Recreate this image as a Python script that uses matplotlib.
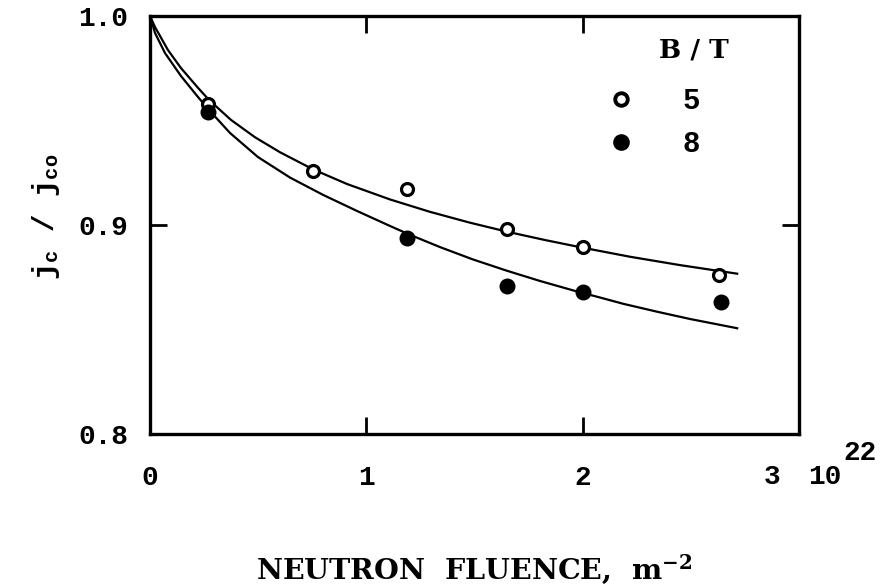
import matplotlib
matplotlib.use('Agg')
import matplotlib.pyplot as plt
from matplotlib.lines import Line2D

# measured points (fluence in 1e22 m^-2, jc/jco)
x_5T = [0.27, 0.755, 1.19, 1.65, 2.0, 2.63]
y_5T = [0.958, 0.926, 0.917, 0.898, 0.8895, 0.876]
x_8T = [0.27, 1.19, 1.65, 2.0, 2.64]
y_8T = [0.954, 0.894, 0.871, 0.868, 0.863]

# fitted curves
fit_x_5T = [0.0, 0.023, 0.083, 0.143, 0.222, 0.273, 0.374, 0.485, 0.601, 0.754, 0.911, 1.110,
            1.294, 1.479, 1.650, 1.826, 1.997, 2.219, 2.450, 2.714]
fit_y_5T = [1.0, 0.9947, 0.9837, 0.9751, 0.9656, 0.9598, 0.9503, 0.9420, 0.9348, 0.9266, 0.9196, 0.9122,
            0.9063, 0.9011, 0.8968, 0.8928, 0.8892, 0.8848, 0.8808, 0.8767]
fit_x_8T = [0.0, 0.023, 0.069, 0.143, 0.222, 0.273, 0.370, 0.499, 0.647, 0.800, 0.957, 1.110,
            1.197, 1.341, 1.493, 1.650, 1.803, 1.956, 2.080, 2.187, 2.344, 2.497, 2.714]
fit_y_8T = [1.0, 0.9919, 0.9823, 0.9713, 0.9612, 0.9550, 0.9440, 0.9325, 0.9227, 0.9144, 0.9067, 0.8995,
            0.8955, 0.8894, 0.8835, 0.8781, 0.8732, 0.8687, 0.8653, 0.8623, 0.8585, 0.8550, 0.8506]

x_ticks = [0, 1, 2, 3]
x_tick_labels = ['0', '1', '2', '']
y_ticks = [0.8, 0.9, 1.0]
y_tick_labels = ['0.8', '0.9', '1.0']
field_labels = ['5', '8']

plt.rcParams['mathtext.default'] = 'regular'
num_font = dict(family='Liberation Mono', weight='bold', size=20)

fig = plt.figure(figsize=(8.8, 5.87), dpi=100)
ax = fig.add_axes([0.1705, 0.2607, 0.908 - 0.1705, 0.9727 - 0.2607])

ax.plot(fit_x_5T, fit_y_5T, color='black', linewidth=1.6)
ax.plot(fit_x_8T, fit_y_8T, color='black', linewidth=1.6)
ax.plot(x_5T, y_5T, 'o', markersize=8.6, markerfacecolor='white', markeredgecolor='black',
        markeredgewidth=2.3, zorder=3)
ax.plot(x_8T, y_8T, 'o', markersize=11.5, markeredgewidth=0, color='black', zorder=3)

ax.set_xlim(0, 3)
ax.set_ylim(0.8, 1.0)
ax.set_xticks(x_ticks)
ax.set_xticklabels(x_tick_labels, fontdict=num_font)
ax.set_yticks(y_ticks)
ax.set_yticklabels(y_tick_labels, fontdict=num_font)
ax.tick_params(direction='in', length=12, width=2, top=True, right=True)
ax.tick_params(axis='x', pad=22)
ax.tick_params(axis='y', pad=16)
for side in ax.spines.values():
    side.set_linewidth(2.4)

# "3" and the 10^22 multiplier under the right edge
ax.text(0.958, -0.103, '3', transform=ax.transAxes, ha='center', va='center', **num_font)
ax.text(1.014, -0.103, '10', transform=ax.transAxes, ha='left', va='center', **num_font)
ax.text(1.068, -0.045, '22', transform=ax.transAxes, ha='left', va='center', **num_font)

ax.set_xlabel('NEUTRON  FLUENCE,  m$^{-2}$', family='DejaVu Serif', weight='bold', fontsize=20.5)
ax.xaxis.set_label_coords(0.5, -0.283)
ax.set_ylabel('j$_c$ / j$_{co}$', family='Liberation Mono', weight='bold', fontsize=21)
ax.yaxis.set_label_coords(-0.135, 0.52)

# key
ax.text(0.838, 0.919, 'B / T', transform=ax.transAxes, ha='center', va='center',
        family='DejaVu Serif', weight='bold', fontsize=19)
handles = [
    Line2D([], [], linestyle='none', marker='o', markersize=9, markerfacecolor='white',
           markeredgecolor='black', markeredgewidth=2.8),
    Line2D([], [], linestyle='none', marker='o', markersize=12, markeredgewidth=0, color='black'),
]
ax.legend(handles, field_labels, loc='center', bbox_to_anchor=(0.775, 0.745),
          frameon=False, borderpad=0, handlelength=1.0, handletextpad=1.6, labelspacing=0.5,
          prop=dict(family='Liberation Mono', weight='bold', size=21))

plt.savefig('out.png', dpi=100)
